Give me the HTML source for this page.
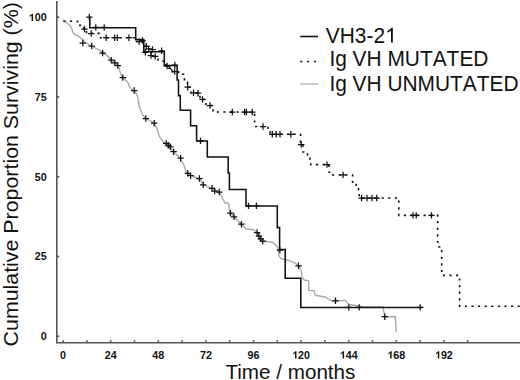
<!DOCTYPE html>
<html><head><meta charset="utf-8"><style>
html,body{margin:0;padding:0;background:#fff;}
svg{display:block;}
text{font-family:"Liberation Sans",sans-serif;font-kerning:none;}
</style></head><body>
<svg width="520" height="380" viewBox="0 0 520 380">
<rect width="520" height="380" fill="#fff"/>
<g stroke="#555" stroke-width="1.6" fill="none">
<line x1="56.8" y1="1" x2="56.8" y2="343.3"/>
<line x1="56" y1="342.8" x2="520" y2="342.8"/>
<line x1="63.10" y1="342.8" x2="63.10" y2="340.2"/><line x1="86.90" y1="342.8" x2="86.90" y2="340.2"/><line x1="110.70" y1="342.8" x2="110.70" y2="340.2"/><line x1="134.50" y1="342.8" x2="134.50" y2="340.2"/><line x1="158.30" y1="342.8" x2="158.30" y2="340.2"/><line x1="182.10" y1="342.8" x2="182.10" y2="340.2"/><line x1="205.90" y1="342.8" x2="205.90" y2="340.2"/><line x1="229.70" y1="342.8" x2="229.70" y2="340.2"/><line x1="253.50" y1="342.8" x2="253.50" y2="340.2"/><line x1="277.30" y1="342.8" x2="277.30" y2="340.2"/><line x1="301.10" y1="342.8" x2="301.10" y2="340.2"/><line x1="324.90" y1="342.8" x2="324.90" y2="340.2"/><line x1="348.70" y1="342.8" x2="348.70" y2="340.2"/><line x1="372.49" y1="342.8" x2="372.49" y2="340.2"/><line x1="396.29" y1="342.8" x2="396.29" y2="340.2"/><line x1="420.09" y1="342.8" x2="420.09" y2="340.2"/><line x1="443.89" y1="342.8" x2="443.89" y2="340.2"/><line x1="467.69" y1="342.8" x2="467.69" y2="340.2"/><line x1="56.8" y1="336.20" x2="59.3" y2="336.20"/><line x1="56.8" y1="256.45" x2="59.3" y2="256.45"/><line x1="56.8" y1="176.70" x2="59.3" y2="176.70"/><line x1="56.8" y1="96.95" x2="59.3" y2="96.95"/><line x1="56.8" y1="17.20" x2="59.3" y2="17.20"/>
</g>
<g transform="translate(0.00 340.10)" fill="#111"><text x="40.65" y="0" font-weight="bold" font-size="10.7">0</text></g><g transform="translate(0.00 260.35)" fill="#111"><text x="34.70" y="0" font-weight="bold" font-size="10.7">25</text></g><g transform="translate(0.00 180.60)" fill="#111"><text x="34.70" y="0" font-weight="bold" font-size="10.7">50</text></g><g transform="translate(0.00 100.85)" fill="#111"><text x="34.70" y="0" font-weight="bold" font-size="10.7">75</text></g><g transform="translate(0.00 21.10)" fill="#111"><path transform="translate(28.75 0) scale(0.00522 -0.00522)" d="M825 0L544 0L544 1059Q390 915 181 846L181 1101Q291 1137 420 1237Q549 1337 597 1409L825 1409Z"/><text x="34.70" y="0" font-weight="bold" font-size="10.7">00</text></g>
<g transform="translate(0.00 358.60)" fill="#111"><text x="60.12" y="0" font-weight="bold" font-size="10.7">0</text></g><g transform="translate(0.00 358.60)" fill="#111"><text x="104.75" y="0" font-weight="bold" font-size="10.7">24</text></g><g transform="translate(0.00 358.60)" fill="#111"><text x="152.35" y="0" font-weight="bold" font-size="10.7">48</text></g><g transform="translate(0.00 358.60)" fill="#111"><text x="199.95" y="0" font-weight="bold" font-size="10.7">72</text></g><g transform="translate(0.00 358.60)" fill="#111"><text x="247.55" y="0" font-weight="bold" font-size="10.7">96</text></g><g transform="translate(0.00 358.60)" fill="#111"><path transform="translate(292.17 0) scale(0.00522 -0.00522)" d="M825 0L544 0L544 1059Q390 915 181 846L181 1101Q291 1137 420 1237Q549 1337 597 1409L825 1409Z"/><text x="298.12" y="0" font-weight="bold" font-size="10.7">20</text></g><g transform="translate(0.00 358.60)" fill="#111"><path transform="translate(339.77 0) scale(0.00522 -0.00522)" d="M825 0L544 0L544 1059Q390 915 181 846L181 1101Q291 1137 420 1237Q549 1337 597 1409L825 1409Z"/><text x="345.72" y="0" font-weight="bold" font-size="10.7">44</text></g><g transform="translate(0.00 358.60)" fill="#111"><path transform="translate(387.37 0) scale(0.00522 -0.00522)" d="M825 0L544 0L544 1059Q390 915 181 846L181 1101Q291 1137 420 1237Q549 1337 597 1409L825 1409Z"/><text x="393.32" y="0" font-weight="bold" font-size="10.7">68</text></g><g transform="translate(0.00 358.60)" fill="#111"><path transform="translate(434.97 0) scale(0.00522 -0.00522)" d="M825 0L544 0L544 1059Q390 915 181 846L181 1101Q291 1137 420 1237Q549 1337 597 1409L825 1409Z"/><text x="440.92" y="0" font-weight="bold" font-size="10.7">92</text></g>
<path d="M63.2 19.9 L65.5 21.9 L68.7 24.3 L71.4 27.4 L72.6 31.4 L74.2 34.1 L77.4 35.7 L80.5 37.7 L82.9 40.0 L85.0 42.0 L91.5 45.8 L99.2 50.0 L102.8 52.6 L108.5 56.9 L111.5 60.3 L115.4 63.4 L118.5 65.8 L119.5 70.5 L122.6 77.9 L125.6 80.2 L128.2 83.0 L129.5 86.5 L131.5 89.2 L134.2 90.5 L136.5 94.0 L138.0 98.0 L138.6 103.0 L139.5 107.4 L142.6 114.7 L145.8 118.5 L154.2 123.2 L157.4 129.5 L159.2 136.1 L163.8 142.5 L168.4 145.3 L173.6 151.7 L180.4 158.2 L184.1 165.6 L186.0 172.0 L190.6 175.7 L199.4 178.5 L203.5 184.9 L212.0 188.3 L219.3 192.0 L222.1 197.5 L224.9 203.0 L228.5 203.0 L229.5 211.3 L234.0 216.8 L241.4 224.2 L246.0 228.8 L253.4 229.7 L257.1 232.5 L260.8 238.9 L263.5 241.5 L267.3 241.5 L273.2 242.5 L277.1 246.5 L278.4 251.7 L279.1 256.3 L281.7 259.0 L288.3 260.3 L294.9 262.9 L298.8 266.0 L301.5 271.5 L302.1 277.4 L304.1 280.0 L308.7 281.0 L308.7 290.6 L314.2 290.6 L315.0 295.2 L325.3 297.0 L330.8 300.7 L335.4 300.7 L345.4 300.4 L348.3 304.2 L362.7 306.7 L382.9 307.0 L384.8 316.7 L395.4 316.7 L396.3 332.1" stroke="#aaa" stroke-width="1.4" fill="none" stroke-linejoin="round"/>
<path d="M63.3 21.3 H77.5 V25.4 H84 V29 H86.5 V33.4 H99.3 V37.7 H135.5 V41.4 H143.5 V46 H145.5 V52.5 H151 V56.5 H158 V61 H164 V65 H169 V68.3 H172.5 V71.8 H178.6 V74.3 H183.5 V76.5 H184.5 V82 H187.5 V87.3 H191 V92.8 H200 V99.5 H206 V105.5 H213 V112 H254.6 V126.5 H268 V131.5 H270 V134.3 H300.5 V143.8 H303 V152 H307.5 V154.7 H310 V159.2 H310.8 V164.6 H329 V172.3 H332 V175 H352.6 V183 H356.2 V186.6 H358.5 V190.8 H359.2 V198 H398.8 V215.4 H437.7 V247 H441.7 V275.4 H459.6 V306.2 H520" stroke="#111" stroke-width="1.6" fill="none" stroke-dasharray="2.2 4.4"/>
<path d="M168.3 65.3 L172.6 71.2" stroke="#222" stroke-width="1.2"/>
<path d="M89.8 17.2 V27.7 H135.7 V39.4 H143.8 V51.7 H164.3 V65.4 H177.1 V80 H178.5 V95.6 H180.3 V110.2 H190.6 V125.7 H196.6 V140.9 H207.3 V157 H228.2 V173 H229.4 V189.5 H246 V205.9 H277.3 V227.6 H279.6 V249.4 H285.2 V278.2 H300.8 V307.4 H422.5" stroke="#111" stroke-width="1.55" fill="none"/>
<g stroke="#111" stroke-width="1.25" fill="none"><path d="M86.1 17.0h6.4M89.3 13.8v6.4"/><path d="M92.6 27.4h6.4M95.8 24.2v6.4"/><path d="M101.0 27.4h6.4M104.2 24.2v6.4"/><path d="M81.3 29.0h6.4M84.5 25.8v6.4"/><path d="M88.0 33.5h6.4M91.2 30.3v6.4"/><path d="M103.0 37.7h6.4M106.2 34.5v6.4"/><path d="M111.4 37.7h6.4M114.6 34.5v6.4"/><path d="M114.1 37.7h6.4M117.3 34.5v6.4"/><path d="M125.7 37.7h6.4M128.9 34.5v6.4"/><path d="M136.0 41.6h6.4M139.2 38.4v6.4"/><path d="M139.3 40.5h6.4M142.5 37.3v6.4"/><path d="M143.1 46.3h6.4M146.3 43.1v6.4"/><path d="M142.1 52.3h6.4M145.3 49.1v6.4"/><path d="M145.5 48.8h6.4M148.7 45.6v6.4"/><path d="M149.3 49.5h6.4M152.5 46.3v6.4"/><path d="M147.8 55.5h6.4M151.0 52.3v6.4"/><path d="M152.0 56.4h6.4M155.2 53.2v6.4"/><path d="M158.4 50.8h6.4M161.6 47.6v6.4"/><path d="M163.9 66.0h6.4M167.1 62.8v6.4"/><path d="M171.7 65.0h6.4M174.9 61.8v6.4"/><path d="M171.4 71.5h6.4M174.6 68.3v6.4"/><path d="M184.5 87.2h6.4M187.7 84.0v6.4"/><path d="M190.3 92.8h6.4M193.5 89.6v6.4"/><path d="M194.8 93.2h6.4M198.0 90.0v6.4"/><path d="M199.3 99.4h6.4M202.5 96.2v6.4"/><path d="M206.8 105.5h6.4M210.0 102.3v6.4"/><path d="M229.1 112.0h6.4M232.3 108.8v6.4"/><path d="M241.4 112.0h6.4M244.6 108.8v6.4"/><path d="M243.2 112.0h6.4M246.4 108.8v6.4"/><path d="M249.1 112.0h6.4M252.3 108.8v6.4"/><path d="M259.8 126.5h6.4M263.0 123.3v6.4"/><path d="M269.1 134.3h6.4M272.3 131.1v6.4"/><path d="M273.0 134.3h6.4M276.2 131.1v6.4"/><path d="M276.8 134.3h6.4M280.0 131.1v6.4"/><path d="M287.6 134.3h6.4M290.8 131.1v6.4"/><path d="M298.0 144.5h6.4M301.2 141.3v6.4"/><path d="M323.8 164.6h6.4M327.0 161.4v6.4"/><path d="M339.9 174.9h6.4M343.1 171.7v6.4"/><path d="M358.3 198.0h6.4M361.5 194.8v6.4"/><path d="M363.8 198.0h6.4M367.0 194.8v6.4"/><path d="M368.8 198.0h6.4M372.0 194.8v6.4"/><path d="M373.6 198.0h6.4M376.8 194.8v6.4"/><path d="M409.8 215.4h6.4M413.0 212.2v6.4"/><path d="M413.0 215.4h6.4M416.2 212.2v6.4"/><path d="M428.3 215.4h6.4M431.5 212.2v6.4"/><path d="M197.3 140.9h6.4M200.5 137.7v6.4"/><path d="M245.3 205.9h6.4M248.5 202.7v6.4"/><path d="M253.2 205.9h6.4M256.4 202.7v6.4"/><path d="M276.6 250.0h6.4M279.8 246.8v6.4"/><path d="M345.6 307.4h6.4M348.8 304.2v6.4"/><path d="M356.0 307.4h6.4M359.2 304.2v6.4"/><path d="M417.0 307.4h6.4M420.2 304.2v6.4"/><path d="M79.6 43.0h6.4M82.8 39.8v6.4"/><path d="M88.5 46.0h6.4M91.7 42.8v6.4"/><path d="M99.4 53.0h6.4M102.6 49.8v6.4"/><path d="M108.1 60.2h6.4M111.3 57.0v6.4"/><path d="M111.7 62.9h6.4M114.9 59.7v6.4"/><path d="M114.6 65.5h6.4M117.8 62.3v6.4"/><path d="M119.6 77.6h6.4M122.8 74.4v6.4"/><path d="M131.0 90.5h6.4M134.2 87.3v6.4"/><path d="M142.6 118.5h6.4M145.8 115.3v6.4"/><path d="M151.0 123.2h6.4M154.2 120.0v6.4"/><path d="M163.0 143.4h6.4M166.2 140.2v6.4"/><path d="M165.2 145.3h6.4M168.4 142.1v6.4"/><path d="M167.1 146.8h6.4M170.3 143.6v6.4"/><path d="M170.4 151.7h6.4M173.6 148.5v6.4"/><path d="M177.4 158.2h6.4M180.6 155.0v6.4"/><path d="M184.6 173.3h6.4M187.8 170.1v6.4"/><path d="M187.4 175.7h6.4M190.6 172.5v6.4"/><path d="M196.2 178.5h6.4M199.4 175.3v6.4"/><path d="M200.0 184.8h6.4M203.2 181.6v6.4"/><path d="M208.8 188.3h6.4M212.0 185.1v6.4"/><path d="M211.5 191.0h6.4M214.7 187.8v6.4"/><path d="M216.1 192.0h6.4M219.3 188.8v6.4"/><path d="M227.2 213.1h6.4M230.4 209.9v6.4"/><path d="M230.8 216.8h6.4M234.0 213.6v6.4"/><path d="M238.2 224.2h6.4M241.4 221.0v6.4"/><path d="M253.9 232.5h6.4M257.1 229.3v6.4"/><path d="M255.7 236.2h6.4M258.9 233.0v6.4"/><path d="M257.6 238.9h6.4M260.8 235.7v6.4"/><path d="M259.5 241.2h6.4M262.7 238.0v6.4"/><path d="M295.3 265.8h6.4M298.5 262.6v6.4"/><path d="M332.3 300.8h6.4M335.5 297.6v6.4"/><path d="M381.6 316.7h6.4M384.8 313.5v6.4"/></g>
<g font-size="20.65" fill="#111">
<g transform="translate(0.00 42.60) scale(1 1.027)" fill="#111"><text x="325.80" y="0" font-size="20.9">VH3-2</text><path transform="translate(385.04 0) scale(0.01021 -0.01021)" d="M763 0L583 0L583 1147Q518 1085 412 1023Q306 961 222 930L222 1104Q373 1175 486 1276Q599 1377 646 1409L763 1409Z"/></g>
<text transform="translate(329.4 65.6) scale(1 1.027)" font-size="20.9">Ig VH MUTATED</text>
<text transform="translate(329.4 90.7) scale(1 1.027)" font-size="20.9">Ig VH UNMUTATED</text>
<text transform="translate(225.4 378.6)" style="font-kerning:normal">Time / months</text>
<text transform="translate(18.2 346.4) rotate(-90) scale(1.013 1)" font-size="21.1">Cumulative Proportion Surviving (%)</text>
</g>
<line x1="300.2" y1="36.5" x2="318" y2="36.5" stroke="#111" stroke-width="1.6"/>
<line x1="300.2" y1="61.5" x2="318" y2="61.5" stroke="#222" stroke-width="1.6" stroke-dasharray="2.2 4.6"/>
<line x1="300.2" y1="84" x2="318" y2="84" stroke="#c2c2c2" stroke-width="1.8"/>
</svg>
</body></html>
